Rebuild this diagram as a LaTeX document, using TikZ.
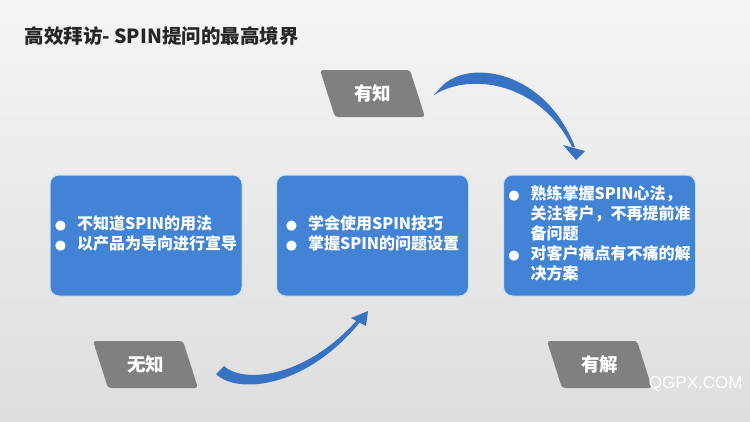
\documentclass[tikz,border=0pt]{standalone}
\usepackage{fontspec}
\setmainfont{Noto Sans CJK SC}
\newfontfamily\wmfont{Liberation Sans}
\newfontfamily\dotfont{DejaVu Sans}

\definecolor{boxblue}{RGB}{66,131,213}
\definecolor{taggray}{RGB}{128,128,128}
\definecolor{arrblue}{RGB}{56,114,194}
\definecolor{titlegray}{RGB}{38,38,38}

\newcommand{\bul}{{\dotfont\fontsize{13}{13}\selectfont ●}}

\begin{document}
\begin{tikzpicture}[x=1pt,y=-1pt,
  every node/.style={font=\bfseries\fontsize{16}{20}\selectfont, text=white},
  box/.style={draw=white!75!boxblue, line width=1pt, fill=boxblue,
    rounded corners=9pt, minimum width=192pt, minimum height=121pt, inner sep=0pt},
  tag/.style={fill=taggray, rounded corners=3pt},
  tagtxt/.style={font=\bfseries\fontsize{18.5}{18.5}\selectfont},
  curl/.style={fill=arrblue}]

  % Background
  \useasboundingbox (0,0) rectangle (750,421);
  \shade[top color=white!96!black, bottom color=white!87!black] (0,0) rectangle (750,421);

  % Title
  \node[anchor=west, text=titlegray, font=\bfseries\fontsize{19.5}{21}\selectfont]
    (title) at (21,36) {高效拜访- SPIN提问的最高境界};

  % Boxes
  \node[box] (nz) at (146,235.5) {\begin{tabular}{@{}l@{\hspace{11pt}}l@{}}
    \bul & 不知道SPIN的用法\\
    \bul & 以产品为导向进行宣导
  \end{tabular}};
  \node[box] (hz) at (372.5,235.5) {\begin{tabular}{@{}l@{\hspace{11pt}}l@{}}
    \bul & 学会使用SPIN技巧\\
    \bul & 掌握SPIN的问题设置
  \end{tabular}};
  \node[box] (hj) at (599.5,235.5) {\begin{tabular}{@{}l@{\hspace{11pt}}l@{}}
    \bul & 熟练掌握SPIN心法，\\
         & 关注客户，不再提前准\\
         & 备问题\\
    \bul & 对客户痛点有不痛的解\\
         & 决方案
  \end{tabular}};

  % Tags
  \foreach \x/\y/\nm/\txt in {372.5/93.5/yzt/有知, 145.5/364.5/wzt/无知, 599.5/364.5/yjt/有解}{
    \fill[tag] (\x-52.5,\y-23.5) -- (\x+37.5,\y-23.5)
      -- (\x+52.5,\y+23.5) -- (\x-37.5,\y+23.5) -- cycle;
    \node[tagtxt] (\nm) at (\x,\y) {\txt};
  }

  % Curved arrows
  \coordinate (ta) at (438,92);
  \coordinate (tb) at (576,160);
  \fill[curl] (ta) ++(3,-5) .. controls (468,58) and (545,70) .. (575,147)
    -- (572,147) .. controls (540,82) and (470,72) .. ([shift={(-4,3)}]ta) -- cycle;
  \fill[curl] (563,145) -- (585,151) -- (tb) -- cycle;

  \coordinate (ba) at (220,370);
  \coordinate (bb) at (368,311);
  \fill[curl] (ba) ++(-4,4) .. controls (236,394) and (305,390) .. (361,321)
    -- (358,319) .. controls (302,382) and (240,382) .. ([shift={(4,-4)}]ba) -- cycle;
  \fill[curl] (351,318) -- (bb) -- (366,326) -- cycle;

  % Watermark
  \node[anchor=east, font=\wmfont\fontsize{17}{17}\selectfont] (wm) at (746,384) {QGPX.COM};
\end{tikzpicture}
\end{document}
